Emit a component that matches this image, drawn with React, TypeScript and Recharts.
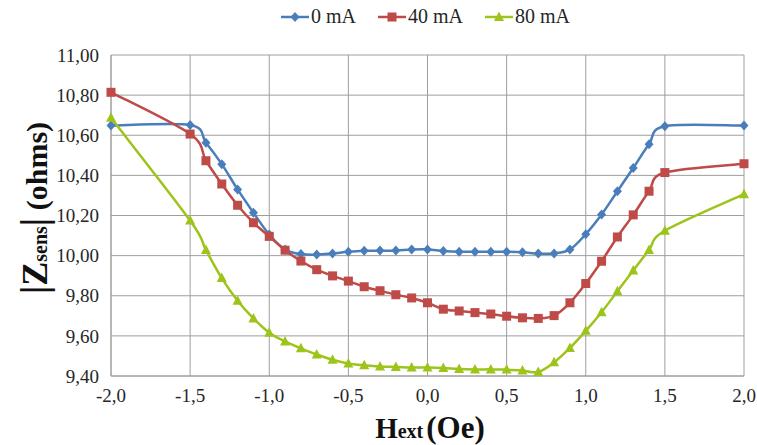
import * as React from "react";
import { LineChart, Line, XAxis, YAxis, CartesianGrid, Legend, Label } from "recharts";

// field values, Oe
const fieldValues = [
  -2.0, -1.5, -1.4, -1.3, -1.2, -1.1, -1.0, -0.9, -0.8, -0.7, -0.6, -0.5, -0.4, -0.3, -0.2, -0.1,
  0.0, 0.1, 0.2, 0.3, 0.4, 0.5, 0.6, 0.7, 0.8, 0.9, 1.0, 1.1, 1.2, 1.3, 1.4, 1.5, 2.0,
];

// |Zsens| in ohms for each bias current
const z0mA = [
  10.648, 10.651, 10.563, 10.456, 10.33, 10.214, 10.105, 10.03, 10.008, 10.005, 10.011, 10.019,
  10.024, 10.025, 10.025, 10.03, 10.031, 10.023, 10.019, 10.019, 10.019, 10.019, 10.017, 10.01,
  10.011, 10.031, 10.107, 10.205, 10.321, 10.437, 10.555, 10.645, 10.648,
];
const z40mA = [
  10.814, 10.606, 10.473, 10.357, 10.251, 10.164, 10.096, 10.027, 9.973, 9.93, 9.899, 9.873,
  9.845, 9.825, 9.805, 9.789, 9.765, 9.733, 9.724, 9.716, 9.709, 9.698, 9.69, 9.687, 9.701,
  9.765, 9.861, 9.972, 10.093, 10.203, 10.321, 10.414, 10.458,
];
const z80mA = [
  10.687, 10.175, 10.028, 9.888, 9.775, 9.687, 9.616, 9.572, 9.538, 9.507, 9.481, 9.462, 9.453,
  9.447, 9.445, 9.442, 9.442, 9.44, 9.435, 9.433, 9.433, 9.432, 9.427, 9.42, 9.468, 9.54, 9.625,
  9.718, 9.822, 9.926, 10.028, 10.124, 10.306,
];

const xTicks = [-2, -1.5, -1, -0.5, 0, 0.5, 1, 1.5, 2];
const yTicks = [9.4, 9.6, 9.8, 10.0, 10.2, 10.4, 10.6, 10.8, 11.0];

const BLUE = "#4A7EBB";
const RED = "#BE4B48";
const GREEN = "#9DC41A";
const FONT = "Liberation Serif, serif";

const data = fieldValues.map((h, i) => ({
  h,
  a: z0mA[i],
  b: z40mA[i],
  c: z80mA[i],
}));

// excel-like smoothed line (catmull-rom in screen space)
function smoothCurve(ctx: any) {
  let pts: [number, number][] = [];
  return {
    areaStart() {},
    areaEnd() {},
    lineStart() {
      pts = [];
    },
    point(x: number, y: number) {
      pts.push([+x, +y]);
    },
    lineEnd() {
      if (!pts.length) return;
      ctx.moveTo(pts[0][0], pts[0][1]);
      for (let i = 0; i < pts.length - 1; i++) {
        const p0 = pts[Math.max(i - 1, 0)];
        const p1 = pts[i];
        const p2 = pts[i + 1];
        const p3 = pts[Math.min(i + 2, pts.length - 1)];
        ctx.bezierCurveTo(
          p1[0] + (p2[0] - p0[0]) / 6,
          p1[1] + (p2[1] - p0[1]) / 6,
          p2[0] - (p3[0] - p1[0]) / 6,
          p2[1] - (p3[1] - p1[1]) / 6,
          p2[0],
          p2[1]
        );
      }
    },
  };
}

function Marker({ kind, cx, cy, color }: { kind: string; cx: number; cy: number; color: string }) {
  if (kind === "diamond") {
    return <path d={`M${cx},${cy - 5}L${cx + 4.5},${cy}L${cx},${cy + 5}L${cx - 4.5},${cy}Z`} fill={color} />;
  }
  if (kind === "square") {
    return <rect x={cx - 4.5} y={cy - 4.5} width={9} height={9} fill={color} />;
  }
  return <path d={`M${cx},${cy - 5.5}L${cx + 5},${cy + 4}L${cx - 5},${cy + 4}Z`} fill={color} />;
}

const dotFor = (kind: string, color: string) => (p: any) =>
  <Marker key={`${kind}-${p.index}`} kind={kind} cx={p.cx} cy={p.cy} color={color} />;

const legendItems = [
  { name: "0 mA", color: BLUE, kind: "diamond" },
  { name: "40 mA", color: RED, kind: "square" },
  { name: "80 mA", color: GREEN, kind: "triangle" },
];

function ChartLegend() {
  return (
    <div style={{ display: "flex", alignItems: "center", paddingLeft: 281, fontFamily: FONT, fontSize: 20, color: "#262626" }}>
      {legendItems.map((it) => (
        <div key={it.name} style={{ display: "flex", alignItems: "center", marginRight: 22 }}>
          <svg width={28} height={14}>
            <line x1={0} y1={7} x2={28} y2={7} stroke={it.color} strokeWidth={2.5} />
            <Marker kind={it.kind} cx={14} cy={7} color={it.color} />
          </svg>
          <span style={{ marginLeft: 2 }}>{it.name}</span>
        </div>
      ))}
    </div>
  );
}

const tickStyle = { fontSize: 19, fontFamily: FONT, fill: "#262626" };

export default function App() {
  return (
    <div style={{ position: "absolute", left: 0, top: 0, background: "#fff", fontFamily: FONT }}>
      <LineChart width={757} height={445} data={data} margin={{ top: 32, right: 13, bottom: 0, left: 0 }}>
        <CartesianGrid stroke="#9E9E9E" strokeWidth={1} />
        <XAxis
          dataKey="h"
          type="number"
          domain={[-2, 2]}
          ticks={xTicks}
          tickFormatter={(v: number) => v.toFixed(1).replace(".", ",")}
          tick={tickStyle}
          tickLine={false}
          tickSize={0}
          tickMargin={13}
          axisLine={{ stroke: "#9E9E9E" }}
          height={69}
        >
          <Label
            content={() => (
              <text x={430} y={438} textAnchor="middle" fontFamily={FONT} fontWeight="bold" fill="#111">
                <tspan fontSize={29}>H</tspan>
                <tspan fontSize={20}>ext</tspan>
                <tspan fontSize={31} dx={3}>(Oe)</tspan>
              </text>
            )}
          />
        </XAxis>
        <YAxis
          type="number"
          domain={[9.4, 11]}
          ticks={yTicks}
          tickFormatter={(v: number) => v.toFixed(2).replace(".", ",")}
          tick={tickStyle}
          tickLine={false}
          tickSize={0}
          tickMargin={12}
          axisLine={{ stroke: "#9E9E9E" }}
          width={111}
        >
          <Label
            content={() => (
              <text
                x={47}
                y={208}
                transform="rotate(-90, 47, 208)"
                textAnchor="middle"
                fontFamily={FONT}
                fontWeight="bold"
                fill="#111"
              >
                <tspan fontSize={38}>|</tspan>
                <tspan fontSize={36}>Z</tspan>
                <tspan fontSize={20}>sens</tspan>
                <tspan fontSize={38}>|</tspan>
                <tspan fontSize={30}> (ohms)</tspan>
              </text>
            )}
          />
        </YAxis>
        <Legend
          verticalAlign="top"
          content={() => <ChartLegend />}
          wrapperStyle={{ position: "absolute", top: 5, left: 0, width: 757 }}
        />
        <Line
          type={smoothCurve as any}
          dataKey="a"
          name="0 mA"
          stroke={BLUE}
          strokeWidth={2.5}
          dot={dotFor("diamond", BLUE)}
          isAnimationActive={false}
        />
        <Line
          type={smoothCurve as any}
          dataKey="b"
          name="40 mA"
          stroke={RED}
          strokeWidth={2.5}
          dot={dotFor("square", RED)}
          isAnimationActive={false}
        />
        <Line
          type={smoothCurve as any}
          dataKey="c"
          name="80 mA"
          stroke={GREEN}
          strokeWidth={2.5}
          dot={dotFor("triangle", GREEN)}
          isAnimationActive={false}
        />
      </LineChart>
    </div>
  );
}
